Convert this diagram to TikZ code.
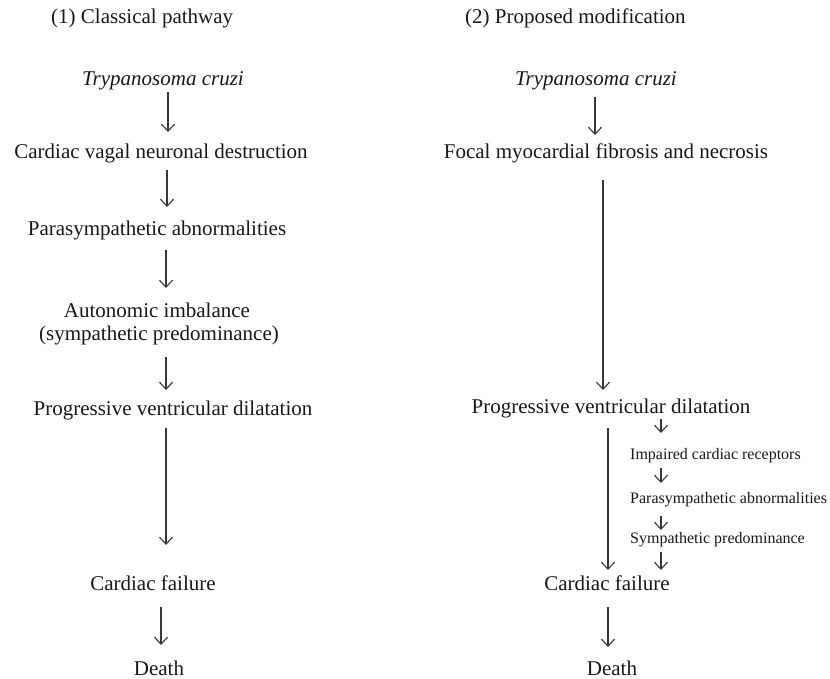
\documentclass[tikz,border=0pt]{standalone}
\usepackage{fontspec}
\setmainfont{Liberation Serif}
\usetikzlibrary{arrows.meta,calc}
\definecolor{arrgray}{RGB}{55,55,55}
\definecolor{txtcol}{RGB}{25,25,25}
\tikzset{
  txt/.style={inner sep=0pt, anchor=base, text=txtcol, font=\fontsize{21}{23}\selectfont},
  smalltxt/.style={inner sep=0pt, anchor=base west, text=txtcol, font=\fontsize{16}{18}\selectfont},
  arr/.style={draw=arrgray, line width=1.1pt, -{Straight Barb[length=7pt,width=13pt,line width=1.1pt]}}
}
\begin{document}
\begin{tikzpicture}[x=1pt,y=-1pt]
\useasboundingbox[fill=white] (0,0) rectangle (830,678);
% left column
\node[txt, anchor=base west] (l0) at (51,23) {(1) Classical pathway};
\node[txt] (l1) at (163,85) {\textit{Trypanosoma cruzi}};
\node[txt] (l2) at (161,158) {Cardiac vagal neuronal destruction};
\node[txt] (l3) at (157,235) {Parasympathetic abnormalities};
\node[txt] (l4a) at (157,317) {Autonomic imbalance};
\node[txt] (l4b) at (159,340) {(sympathetic predominance)};
\node[txt] (l5) at (173,415) {Progressive ventricular dilatation};
\node[txt] (l6) at (153,590) {Cardiac failure};
\node[txt] (l7) at (159,675) {Death};
\draw[arr] ($(l1.base)+(5,7)$) -- ($(l2.base)+(7,-26)$);
\draw[arr] ($(l2.base)+(6,12)$) -- ($(l3.base)+(10,-28)$);
\draw[arr] ($(l3.base)+(9,15)$) -- ($(l4a.base)+(9,-29)$);
\draw[arr] ($(l4b.base)+(7,17)$) -- ($(l5.base)+(-7,-25)$);
\draw[arr] ($(l5.base)+(-7,13)$) -- ($(l6.base)+(13,-45)$);
\draw[arr] ($(l6.base)+(8,17)$) -- ($(l7.base)+(2,-30)$);
% right column
\node[txt, anchor=base west] (r0) at (465,23) {(2) Proposed modification};
\node[txt] (r1) at (596,85) {\textit{Trypanosoma cruzi}};
\node[txt] (r2) at (606,158) {Focal myocardial fibrosis and necrosis};
\node[txt] (r3) at (611,413) {Progressive ventricular dilatation};
\node[smalltxt] (s1) at (630,459) {Impaired cardiac receptors};
\node[smalltxt] (s2) at (630,503) {Parasympathetic abnormalities};
\node[smalltxt] (s3) at (630,543) {Sympathetic predominance};
\node[txt] (r4) at (607,590) {Cardiac failure};
\node[txt] (r5) at (612,675) {Death};
\draw[arr] ($(r1.base)+(-1,12)$) -- ($(r2.base)+(-11,-23)$);
\draw[arr] ($(r2.base)+(-3,22)$) -- ($(r3.base)+(-8,-23)$);
\draw[arr] ($(r3.base)+(-3,15)$) -- ($(r4.base)+(1,-20)$);
\draw[arr] ($(r3.base)+(50,6)$) -- ($(s1.base west)+(31,-26)$);
\draw[arr] ($(s1.base west)+(31,9)$) -- ($(s2.base west)+(31,-20)$);
\draw[arr] ($(s2.base west)+(31,13)$) -- ($(s3.base west)+(31,-13)$);
\draw[arr] ($(s3.base west)+(31,9)$) -- ($(r4.base)+(54,-20)$);
\draw[arr] ($(r4.base)+(1,17)$) -- ($(r5.base)+(-4,-28)$);
\end{tikzpicture}
\end{document}
